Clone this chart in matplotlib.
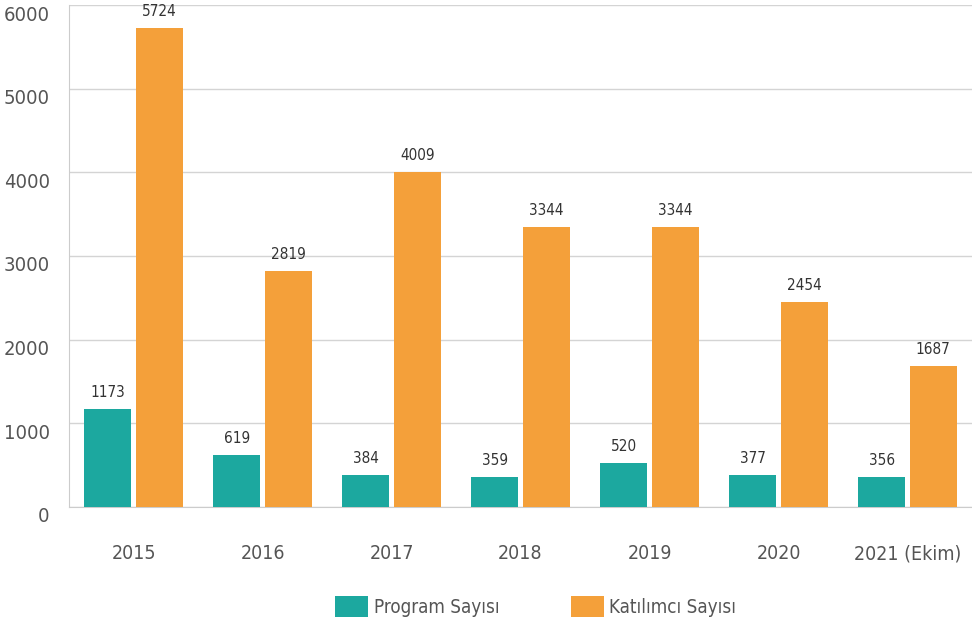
import numpy as np
import matplotlib.pyplot as plt
import matplotlib.transforms as mtransforms

# Veriler
years = ['2015', '2016', '2017', '2018', '2019', '2020', '2021 (Ekim)']
program = [1173, 619, 384, 359, 520, 377, 356]
katilimci = [5724, 2819, 4009, 3344, 3344, 2454, 1687]

teal = '#1ca89f'
orange = '#f4a03a'

plt.rcParams['font.family'] = ['DejaVu Sans']
plt.rcParams['font.stretch'] = 'condensed'

fig = plt.figure(figsize=(9.72, 6.28), dpi=100)
ax = fig.add_axes([0.071, 0.193, 0.929, 0.799])

x = np.arange(len(years))
w = 0.365
b1 = ax.bar(x - 0.2, program, w, color=teal, label='Program Sayısı', zorder=3)
b2 = ax.bar(x + 0.2, katilimci, w, color=orange, label='Katılımcı Sayısı', zorder=3)

for bars, vals in [(b1, program), (b2, katilimci)]:
    for rect, v in zip(bars, vals):
        ax.annotate(str(v), (rect.get_x() + rect.get_width() / 2, v),
                    xytext=(0, 6.5), textcoords='offset points',
                    ha='center', va='bottom', fontsize=11, color='#333333')

ax.set_xlim(-0.5, 6.5)
ax.set_ylim(0, 6000)
ax.set_yticks(range(0, 6001, 1000))
ax.set_xticks(x)
ax.set_xticklabels(years)
ax.tick_params(axis='both', length=0, colors='#555555')
ax.tick_params(axis='x', pad=27, labelsize=14)
ax.tick_params(axis='y', pad=14, labelsize=14.5)
# y etiketleri çizgilerin biraz altında
off = mtransforms.ScaledTranslation(0, -8 / 100, fig.dpi_scale_trans)
for lab in ax.get_yticklabels():
    lab.set_transform(lab.get_transform() + off)
ax.grid(axis='y', color='#d4d4d4', lw=1, zorder=0)
for s in ['top', 'right']:
    ax.spines[s].set_visible(False)
ax.spines['left'].set_color('#cccccc')
ax.spines['bottom'].set_color('#cccccc')

fig.legend(loc='center', bbox_to_anchor=(0.551, 0.034), ncol=2, frameon=False,
           fontsize=13.5, labelcolor='#555555', handlelength=1.76, handleheight=1.33,
           columnspacing=3.8, handletextpad=0.3)

fig.savefig('out.png', dpi=100)
